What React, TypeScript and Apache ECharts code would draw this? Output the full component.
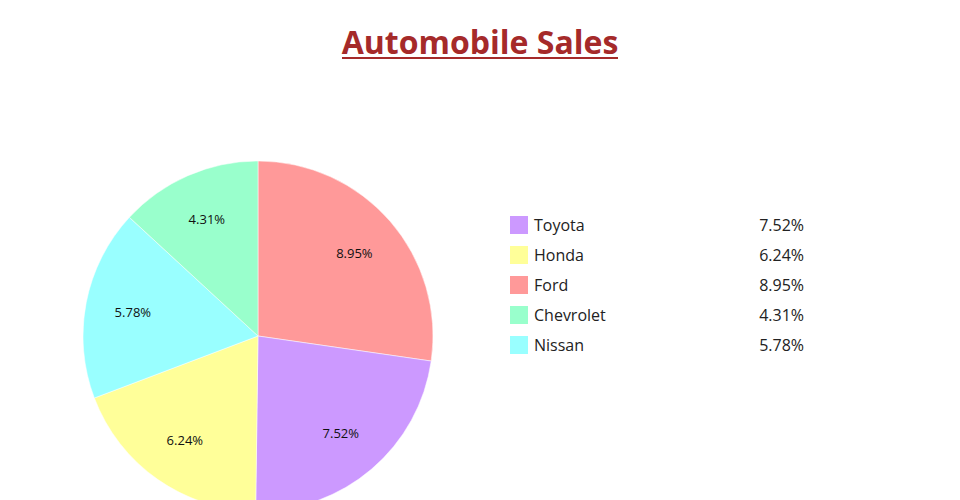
import React, { useEffect, useRef } from "react";
import * as echarts from "echarts";

const categories = ["Toyota", "Honda", "Ford", "Chevrolet", "Nissan"];
const values = [7.52, 6.24, 8.95, 4.31, 5.78];
const colors = ["#cc99ff", "#ffff99", "#ff9999", "#99ffcc", "#99ffff"];
const titleText = "Automobile Sales";

export default function App() {
  const ref = useRef<HTMLDivElement>(null);
  useEffect(() => {
    if (!ref.current) return;
    const chart = echarts.init(ref.current, null, { renderer: "svg" });
    const items = categories.map((name, i) => ({
      name,
      value: values[i],
      itemStyle: { color: colors[i] },
    }));
    const sorted = [...items].sort((a, b) => b.value - a.value);
    const valueOf: Record<string, number> = {};
    categories.forEach((c, i) => (valueOf[c] = values[i]));
    const center = [258, 336];
    chart.setOption({
      animation: false,
      textStyle: { fontFamily: "Open Sans" },
      title: {
        text: titleText,
        left: "center",
        top: 20,
        textStyle: {
          color: "#a52a2a",
          fontSize: 32,
          fontWeight: "bold",
          fontFamily: "Open Sans",
        },
      },
      graphic: [
        {
          type: "line",
          shape: { x1: 342, y1: 58, x2: 618, y2: 58 },
          style: { stroke: "#a52a2a", lineWidth: 2 },
        },
      ],
      legend: {
        orient: "vertical",
        left: 508,
        top: 214,
        padding: 0,
        itemWidth: 20,
        itemHeight: 20,
        itemGap: 8,
        icon: "rect",
        selectedMode: false,
        data: categories,
        formatter: (name: string) => `{n|${name}}{v|${valueOf[name].toFixed(2)}%}`,
        textStyle: {
          padding: [0, 0, 0, 0],
          rich: {
            n: { width: 200, fontSize: 16, lineHeight: 20, color: "#222", fontFamily: "Open Sans" },
            v: { width: 70, align: "right", fontSize: 16, lineHeight: 20, color: "#222", fontFamily: "Open Sans" },
          },
        },
      },
      series: [
        {
          type: "pie",
          center,
          radius: [0, 175],
          startAngle: 90,
          clockwise: true,
          silent: true,
          label: { show: false },
          labelLine: { show: false },
          itemStyle: { borderColor: "#ffffff", borderWidth: 0.5 },
          data: sorted,
        },
        {
          type: "pie",
          center,
          radius: [74, 175],
          startAngle: 90,
          clockwise: true,
          silent: true,
          legendHoverLink: false,
          itemStyle: { color: "transparent" },
          label: {
            show: true,
            position: "inside",
            formatter: (p: any) => `${p.value.toFixed(2)}%`,
            color: "#111",
            fontSize: 13,
            fontFamily: "Open Sans",
          },
          labelLine: { show: false },
          data: sorted.map((d) => ({ name: d.name + " ", value: d.value })),
        },
      ],
    });
    return () => chart.dispose();
  }, []);
  return <div ref={ref} style={{ width: 960, height: 500, position: "absolute", left: 0, top: 0 }} />;
}
